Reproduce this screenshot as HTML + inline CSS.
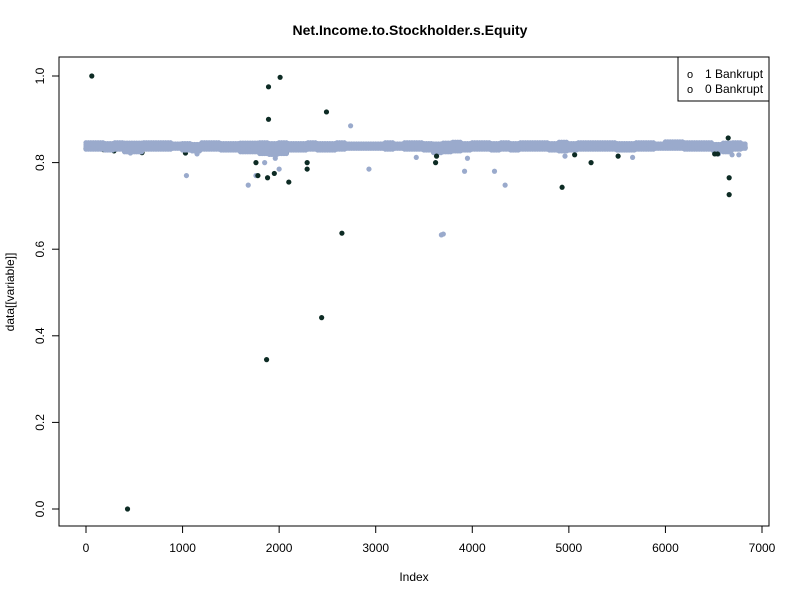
<!DOCTYPE html>
<html><head><meta charset="utf-8"><style>
body{margin:0;background:#fff;font-family:"Liberation Sans",sans-serif}
</style></head><body>
<svg id="c" width="800" height="600" xmlns="http://www.w3.org/2000/svg" font-family="Liberation Sans, sans-serif">
<rect width="800" height="600" fill="#fff"/>
<text x="410" y="35" text-anchor="middle" font-size="14" font-weight="bold">Net.Income.to.Stockholder.s.Equity</text>
<rect x="59" y="57" width="710" height="469" fill="none" stroke="#000"/>
<text x="414" y="581" text-anchor="middle" font-size="12">Index</text>
<text transform="translate(14,292) rotate(-90)" text-anchor="middle" font-size="12">data[[variable]]</text>
<g id="axes"></g>
<g id="marks"></g>
<g>
<rect x="678" y="57" width="91" height="44" fill="#fff" stroke="#000"/>
<text x="687" y="78" font-size="11">o</text>
<text x="705" y="78" font-size="12">1 Bankrupt</text>
<text x="687" y="93" font-size="11">o</text>
<text x="705" y="93" font-size="12">0 Bankrupt</text>
</g>
</svg>
<script>
const xTicks=[0,1000,2000,3000,4000,5000,6000,7000];
const yTicks=[0.0,0.2,0.4,0.6,0.8,1.0];
const yTickLabels=["0.0","0.2","0.4","0.6","0.8","1.0"];
const bandStep=100;
const bandLo=[0.828,0.828,0.826,0.828,0.822,0.822,0.828,0.828,0.828,0.830,0.826,0.824,0.828,0.828,0.826,0.826,0.822,0.822,0.818,0.816,0.818,0.826,0.826,0.828,0.826,0.826,0.828,0.830,0.830,0.830,0.830,0.828,0.830,0.828,0.828,0.826,0.820,0.822,0.824,0.826,0.828,0.828,0.826,0.828,0.826,0.828,0.828,0.828,0.826,0.824,0.826,0.828,0.828,0.828,0.828,0.826,0.826,0.828,0.828,0.830,0.830,0.830,0.828,0.828,0.828,0.824,0.822,0.828,0.830];
const bandHi=[0.846,0.846,0.846,0.846,0.846,0.848,0.846,0.846,0.848,0.846,0.846,0.846,0.846,0.846,0.848,0.846,0.846,0.848,0.848,0.846,0.848,0.848,0.848,0.850,0.848,0.846,0.846,0.846,0.846,0.846,0.846,0.846,0.846,0.848,0.846,0.846,0.846,0.846,0.848,0.848,0.848,0.850,0.848,0.848,0.846,0.846,0.846,0.848,0.848,0.848,0.848,0.848,0.848,0.846,0.846,0.846,0.846,0.846,0.846,0.846,0.848,0.850,0.846,0.846,0.846,0.846,0.848,0.848,0.846];
const out0Idx=[460,1040,1150,1430,1680,1760,1850,1960,2000,2740,2930,3420,3680,3700,3920,3950,4230,4340,4960,5660,6550,6690,6760];
const out0Val=[0.822,0.770,0.820,0.830,0.748,0.770,0.800,0.810,0.785,0.885,0.785,0.812,0.633,0.635,0.780,0.810,0.780,0.748,0.815,0.812,0.820,0.818,0.818];
const out1Idx=[60,430,180,290,580,1030,1760,1780,1870,1880,1890,1890,1950,2010,2010,2100,2290,2290,2440,2490,2650,3620,3630,4930,5060,5230,5510,6510,6540,6650,6660,6660];
const out1Val=[1.0,0.0,0.830,0.827,0.823,0.822,0.800,0.770,0.345,0.765,0.975,0.900,0.775,0.997,0.825,0.755,0.785,0.800,0.442,0.917,0.637,0.800,0.815,0.743,0.818,0.800,0.815,0.820,0.820,0.857,0.765,0.726];

const X=v=>86+v*676/7000, Y=v=>509-v*433;
const NS="http://www.w3.org/2000/svg";
const ax=document.getElementById('axes'), mk=document.getElementById('marks');
function el(t,a,p){const e=document.createElementNS(NS,t);for(const k in a)e.setAttribute(k,a[k]);p.appendChild(e);return e;}
el('line',{x1:X(0),x2:X(7000),y1:526,y2:526,stroke:'#000'},ax);
xTicks.forEach(t=>{
 const l=el('line',{x1:X(t),x2:X(t),y1:526,y2:533,stroke:'#000'},ax);
 
 
 const s=el('text',{x:X(t),y:552,'text-anchor':'middle','font-size':12},ax);s.textContent=t;
 
 
});
el('line',{x1:59,x2:59,y1:Y(0),y2:Y(1),stroke:'#000'},ax);
yTicks.forEach((t,i)=>{
 const l=el('line',{x1:52,x2:59,y1:Y(t),y2:Y(t),stroke:'#000'},ax);
 
 
 const s=el('text',{transform:`translate(44,${Y(t)}) rotate(-90)`,'text-anchor':'middle','font-size':12},ax);s.textContent=yTickLabels[i];
 
 
});
const C0='#9AAACC', C1='#0D2B24';
function dot(i,v,c,name){const d=el('circle',{cx:X(i),cy:Y(v),r:2.6,fill:c},mk);
 
 }
const nb=bandLo.length;
bandLo.forEach((lo,k)=>{for(let j=0;j<4;j++){if(k===nb-1&&j>1)continue;dot(k*bandStep+j*25,lo+0.004,C1,'point-bankrupt-1-band');}});
out1Idx.forEach((i,k)=>{if(out1Val[k]>0.82&&out1Val[k]<0.86)dot(i,out1Val[k],C1,'point-bankrupt-1');});
bandLo.forEach((lo,k)=>{const hi=bandHi[k];for(let j=0;j<4;j++){if(k===nb-1&&j>1)continue;for(let v=lo+0.003;v<=hi;v+=0.005){dot(k*bandStep+j*25,v,C0,'point-bankrupt-0-band');}}});
out0Idx.forEach((i,k)=>dot(i,out0Val[k],C0,'point-bankrupt-0'));
out1Idx.forEach((i,k)=>{if(!(out1Val[k]>0.82&&out1Val[k]<0.86))dot(i,out1Val[k],C1,'point-bankrupt-1');});
</script>
</body></html>
